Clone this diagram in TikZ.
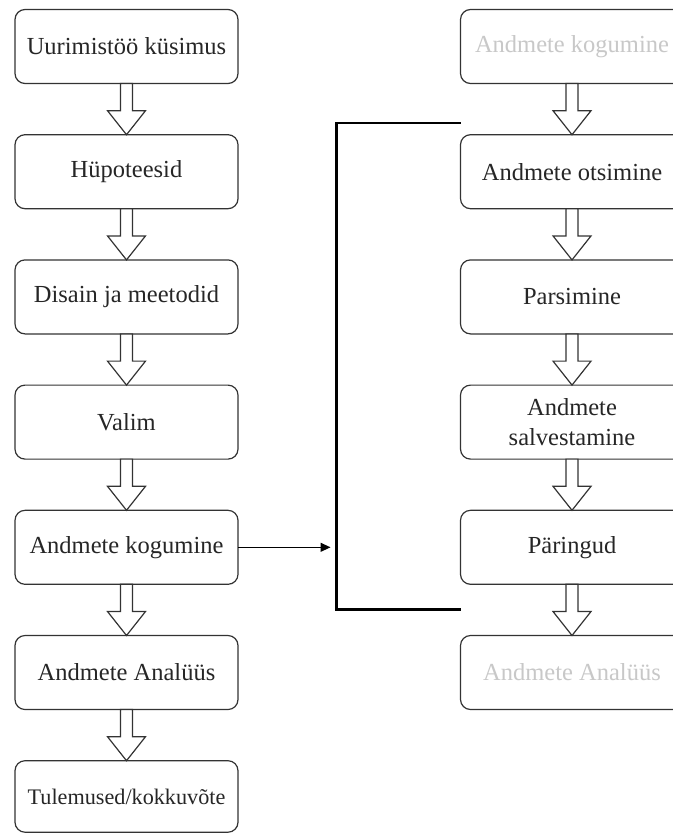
\documentclass[tikz,border=0pt]{standalone}
\usepackage{fontspec}
\setmainfont{Liberation Serif}
\usetikzlibrary{arrows.meta, positioning, calc}

\definecolor{boxline}{HTML}{333333}
\definecolor{fadedtext}{HTML}{C8C8C8}

\newcommand{\blockarrow}[2]{%
  \draw[hollow] ($(#1.south)+(-6bp,0)$) -- ($(#1.south)+(6bp,0)$)
    -- ($(#2.north)+(6bp,24bp)$) -- ($(#2.north)+(19bp,24bp)$)
    -- (#2.north) -- ($(#2.north)+(-19bp,24bp)$)
    -- ($(#2.north)+(-6bp,24bp)$) -- cycle;
}

\begin{document}
\begin{tikzpicture}[
x=1bp, y=-1bp,
node distance=51.2bp and 222.5bp,
font=\fontsize{24.5bp}{29.5bp}\selectfont,
>={Triangle[length=10bp, width=9bp]},
stepbox/.style={
rectangle, rounded corners=10bp,
draw=boxline, line width=1.2bp,
text=black!85, align=center,
minimum width=223bp, minimum height=74bp,
inner sep=2bp, outer sep=0pt,
fill=white
},
faded/.style={stepbox, text=fadedtext},
hollow/.style={draw=boxline, line width=1.2bp, fill=white, line join=miter},
arrow/.style={->, line width=1.2bp, draw=black},
bracket/.style={line width=2.4bp, line join=miter}
]

\useasboundingbox (0,0) rectangle (673,834);

\node[stepbox, anchor=north west] (kysimus) at (15,9.5) {Uurimistöö küsimus};

\node[stepbox, below=of kysimus] (hypoteesid) {Hüpoteesid};

\node[stepbox, below=of hypoteesid] (disain) {Disain ja meetodid};

\node[stepbox, below=of disain] (valim) {Valim};

\node[stepbox, below=of valim] (kogumine) {Andmete kogumine};

\node[stepbox, below=of kogumine] (analyys) {Andmete Analüüs};

\node[stepbox, minimum height=71.5bp, font=\fontsize{22.2bp}{26bp}\selectfont,
below=of analyys] (tulemused) {Tulemused/kokkuvõte};

\node[faded, right=of kysimus] (kogumineR) {Andmete kogumine};

\node[stepbox, below=of kogumineR] (otsimine) {Andmete otsimine};

\node[stepbox, below=of otsimine] (parsimine) {Parsimine};

\node[stepbox, below=of parsimine] (salvestamine) {Andmete\\salvestamine};

\node[stepbox, below=of salvestamine] (paringud) {Päringud};

\node[faded, below=of paringud] (analyysR) {Andmete Analüüs};

\blockarrow{kysimus}{hypoteesid}
\blockarrow{hypoteesid}{disain}
\blockarrow{disain}{valim}
\blockarrow{valim}{kogumine}
\blockarrow{kogumine}{analyys}
\blockarrow{analyys}{tulemused}

\blockarrow{kogumineR}{otsimine}
\blockarrow{otsimine}{parsimine}
\blockarrow{parsimine}{salvestamine}
\blockarrow{salvestamine}{paringud}
\blockarrow{paringud}{analyysR}

\coordinate (brkTop) at ($(otsimine.north west)+(-124bp,12bp)$);
\coordinate (brkBot) at ($(paringud.south west)+(-124bp,-25bp)$);

\draw[bracket] (brkTop -| otsimine.west) -- (brkTop) -- (brkBot) -- (brkBot -| paringud.west);

\draw[arrow, shorten >=6bp] (kogumine.east) -- (kogumine.east -| brkTop);

\end{tikzpicture}
\end{document}
